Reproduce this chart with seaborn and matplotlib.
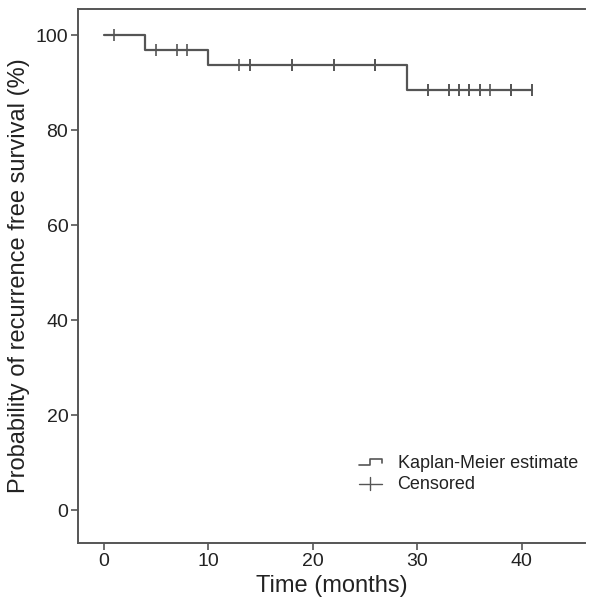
import numpy as np
import pandas as pd
import seaborn as sns
from matplotlib import pyplot as plt
from matplotlib.legend_handler import HandlerBase
from matplotlib.lines import Line2D

# follow-up times (months) and event flag (1 = recurrence, 0 = censored)
times = [1, 4, 5, 7, 8, 10, 13, 14, 14, 18, 18, 22, 22, 26, 26, 26, 29,
         31, 31, 33, 33, 34, 34, 35, 35, 35, 36, 36, 37, 39, 39, 39, 41, 41]
events = [0, 1, 0, 0, 0, 1, 0, 0, 0, 0, 0, 0, 0, 0, 0, 0, 1,
          0, 0, 0, 0, 0, 0, 0, 0, 0, 0, 0, 0, 0, 0, 0, 0, 0]
x_ticks = [0, 10, 20, 30, 40]
y_ticks = [0, 20, 40, 60, 80, 100]

df = pd.DataFrame({"time": times, "event": events}).sort_values("time")

# Kaplan-Meier estimate
surv = 1.0
curve_t, curve_s = [0.0], [100.0]
cens_t, cens_s = [], []
for t, grp in df.groupby("time"):
    at_risk = (df["time"] >= t).sum()
    d = grp["event"].sum()
    if d > 0:
        surv *= 1 - d / at_risk
        curve_t.append(t)
        curve_s.append(surv * 100)
    for _ in range((grp["event"] == 0).sum()):
        cens_t.append(t)
        cens_s.append(surv * 100)
curve_t.append(max(times))
curve_s.append(surv * 100)
km = pd.DataFrame({"time": curve_t, "surv": curve_s})
cens = pd.DataFrame({"time": cens_t, "surv": cens_s})

sns.set_style("ticks")
plt.rcParams["font.family"] = ["Liberation Sans", "DejaVu Sans"]

col = "#555555"
txt = "#222222"
fig = plt.figure(figsize=(5.97, 6.02), dpi=100)
ax = fig.add_axes([0.1307, 0.098, 0.849, 0.887])

sns.lineplot(x="time", y="surv", data=km, drawstyle="steps-post",
             color=col, linewidth=1.6, ax=ax, estimator=None, sort=False)
sns.scatterplot(x="time", y="surv", data=cens, marker="|", s=70,
                color=col, linewidth=1.2, ax=ax, zorder=3)


class StepHandler(HandlerBase):
    def create_artists(self, legend, orig, xd, yd, w, h, fontsize, trans):
        xs = [xd, xd + w * 0.45, xd + w * 0.45, xd + w * 0.9, xd + w * 0.9]
        ys = [yd + h * 0.2, yd + h * 0.2, yd + h * 0.7, yd + h * 0.7, yd + h * 0.4]
        ln = Line2D(xs, ys, color=col, linewidth=1.2, transform=trans)
        return [ln]


class CrossHandler(HandlerBase):
    def create_artists(self, legend, orig, xd, yd, w, h, fontsize, trans):
        a = Line2D([xd, xd + w * 0.9], [yd + h * 0.4] * 2, color=col,
                   linewidth=1.0, transform=trans)
        b = Line2D([xd + w * 0.45] * 2, [yd - h * 0.1, yd + h * 0.9], color=col,
                   linewidth=1.0, transform=trans)
        return [a, b]


h1 = Line2D([], [])
h2 = Line2D([], [], marker="+")
ax.legend([h1, h2], ["Kaplan-Meier estimate", "Censored"],
          handler_map={h1: StepHandler(), h2: CrossHandler()},
          loc="lower right", bbox_to_anchor=(1.018, 0.064), frameon=False,
          fontsize=13, handlelength=1.45, handletextpad=0.7, labelspacing=0.2,
          labelcolor=txt)

ax.set_xlim(-2.45, 46.05)
ax.set_ylim(-6.95, 105.5)
ax.set_xticks(x_ticks)
ax.set_yticks(y_ticks)
ax.set_xlabel("Time (months)", fontsize=17, color=txt, labelpad=4)
ax.set_ylabel("Probability of recurrence free survival (%)", fontsize=17,
              color=txt, labelpad=4)
ax.tick_params(labelsize=14, colors=txt, length=5, width=1.2,
               color=col, pad=2)
for side in ["left", "bottom", "top"]:
    ax.spines[side].set_color(col)
    ax.spines[side].set_linewidth(1.4)
ax.spines["right"].set_visible(False)
ax.spines["top"].set_visible(True)

plt.savefig("out.png", dpi=100)
